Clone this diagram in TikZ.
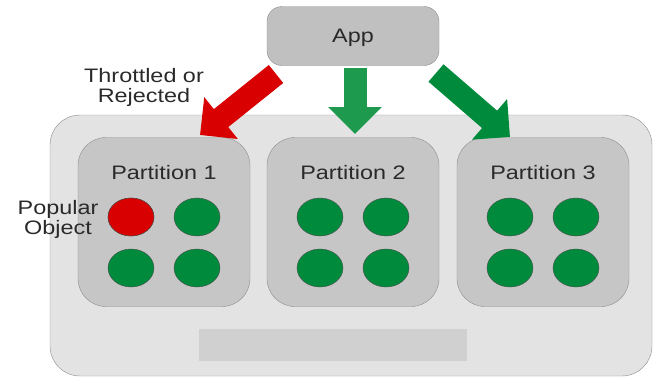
\documentclass[tikz,border=0pt]{standalone}
\usepackage{fontspec}
\setmainfont{Liberation Sans}[FakeStretch=1.2]
\usetikzlibrary{arrows.meta,shapes.geometric}
\definecolor{appgray}{HTML}{C0C0C0}
\definecolor{outergray}{HTML}{E3E3E3}
\definecolor{partgray}{HTML}{C6C6C6}
\definecolor{bargray}{HTML}{D0D0D0}
\definecolor{edgegray}{HTML}{8C8C8C}
\definecolor{objgreen}{HTML}{008A3C}
\definecolor{midgreen}{HTML}{1E9A4E}
\definecolor{objred}{HTML}{D80000}
\definecolor{textgray}{HTML}{2A2A2A}
\tikzset{
	lbl/.style={text=textgray, font=\fontsize{19.5}{20}\selectfont, align=center, inner sep=0pt},
	obj/.style={ellipse, draw=black!70, fill=objgreen, minimum width=46pt, minimum height=38pt, inner sep=0pt},
	blockarrow/.style={line width=23pt, -{Triangle[width=52pt,length=27pt]}}
}
\begin{document}
\begin{tikzpicture}[x=1pt,y=-1pt]
	\useasboundingbox (0,0) rectangle (656,378);
	% outer store
	\draw[draw=edgegray, fill=outergray, rounded corners=30pt] (50,115) rectangle (652,376);
	\fill[bargray] (199,329) rectangle (467,361);
	\node[draw=edgegray, fill=appgray, rounded corners=15pt, minimum width=172pt, minimum height=59pt] (app) at (353,36) {};
	\node[lbl] at ([yshift=-2pt]app) {App};
	
	% partitions
	\foreach \i/\x in {1/164,2/353,3/543}{
		\node[draw=edgegray, fill=partgray, rounded corners=28pt, minimum width=172pt, minimum height=169pt] (part\i) at (\x,222) {};
		\node[lbl] (title\i) at (\x,173) {Partition \i};
		\node[obj] (obj\i a) at (\x-33,217) {};
		\node[obj] (obj\i b) at (\x+33,217) {};
		\node[obj] (obj\i c) at (\x-33,268) {};
		\node[obj] (obj\i d) at (\x+33,268) {};
	}
	\node[obj, fill=objred] at (obj1a) {};
	
	% requests
	\coordinate (rejStart) at (276,74);
	\coordinate (rejTip) at (200,135);
	\coordinate (midStart) at (355,68);
	\coordinate (midTip) at (355,134);
	\coordinate (accStart) at (436,73);
	\coordinate (accTip) at (510,137);
	\draw[blockarrow, objred] (rejStart) -- (rejTip);
	\draw[blockarrow, midgreen] (midStart) -- (midTip);
	\draw[blockarrow, objgreen] (accStart) -- (accTip);
	
	\node[lbl] (throttled) at (144,87) {Throttled or\\Rejected};
	\node[lbl] (popular) at (58,219) {Popular\\Object};
\end{tikzpicture}
\end{document}
